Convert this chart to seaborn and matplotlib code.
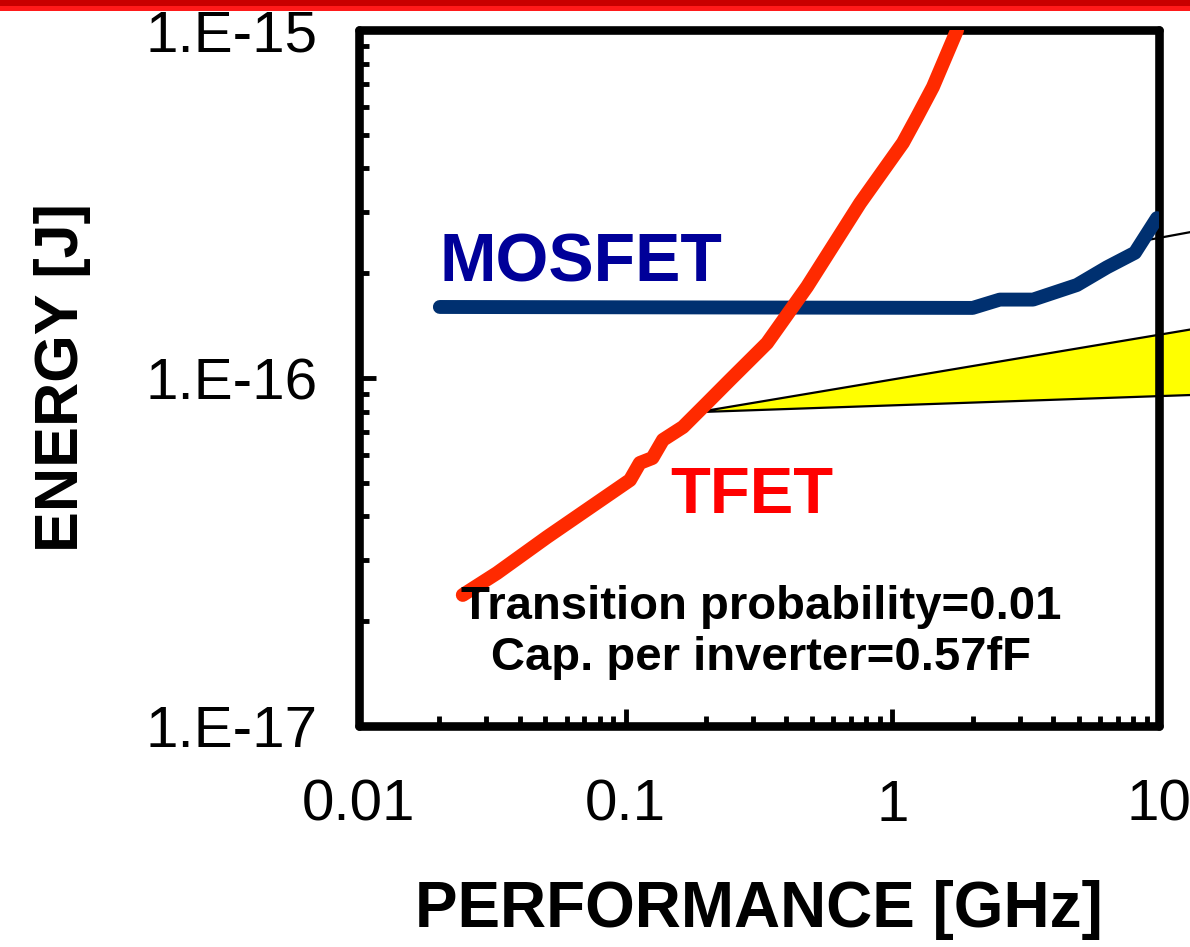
import matplotlib
matplotlib.use("Agg")
import matplotlib.pyplot as plt
import matplotlib.ticker as mticker
import pandas as pd
import seaborn as sns

# ----
# DATA
# ----
mosfet_ghz = [0.0201, 2.0, 2.53, 3.37, 4.92, 6.38, 8.12, 9.83]
mosfet_energy = [1.60e-16, 1.59e-16, 1.68e-16, 1.68e-16, 1.85e-16, 2.08e-16, 2.29e-16, 2.88e-16]

tfet_ghz = [0.0245, 0.0329, 0.0507, 0.1038, 0.113, 0.126, 0.138, 0.164, 0.202, 0.246,
            0.339, 0.479, 0.757, 1.096, 1.237, 1.42, 1.75]
tfet_energy = [2.38e-17, 2.75e-17, 3.49e-17, 5.09e-17, 5.70e-17, 5.89e-17, 6.64e-17, 7.23e-17,
               8.48e-17, 9.87e-17, 1.26e-16, 1.83e-16, 3.18e-16, 4.74e-16, 5.62e-16,
               6.86e-16, 1.0e-15]

# yellow callout wedge (apex on the TFET curve) and pointer line from MOSFET end
wedge_ghz = [0.187, 14.0, 14.0]
wedge_energy = [7.98e-17, 1.39e-16, 8.95e-17]
pointer_ghz = [9.01, 14.0]
pointer_energy = [2.49e-16, 2.65e-16]

x_ticks = [0.01, 0.1, 1, 10]
x_tick_labels = ["0.01", "0.1", "1", "10"]
y_ticks = [1e-17, 1e-16, 1e-15]
y_tick_labels = ["1.E-17", "1.E-16", "1.E-15"]

mosfet_df = pd.DataFrame({"ghz": mosfet_ghz, "energy": mosfet_energy})
tfet_df = pd.DataFrame({"ghz": tfet_ghz, "energy": tfet_energy})

# --------
# PLOTTING
# --------
sns.set_style("ticks")
plt.rcParams["font.family"] = ["Liberation Sans", "DejaVu Sans"]
plt.rcParams["text.color"] = "black"
plt.rcParams["axes.labelcolor"] = "black"
plt.rcParams["xtick.color"] = "black"
plt.rcParams["ytick.color"] = "black"

fig = plt.figure(figsize=(11.9, 9.47), dpi=100)
ax = fig.add_axes([359 / 1190, 1 - 726 / 947, 800 / 1190, 696 / 947])

# slide header bar
fig.add_artist(plt.Rectangle((0, 1 - 6 / 947), 1, 6 / 947, transform=fig.transFigure,
                             color="#c80000", lw=0))
fig.add_artist(plt.Rectangle((0, 1 - 11 / 947), 1, 5 / 947, transform=fig.transFigure,
                             color="#ff1a1a", lw=0))

ax.fill(wedge_ghz, wedge_energy, facecolor="#ffff00", edgecolor="black", lw=1.6,
        clip_on=False, zorder=2)
ax.plot(pointer_ghz, pointer_energy, color="black", lw=1.6, clip_on=False, zorder=2)

sns.lineplot(data=mosfet_df, x="ghz", y="energy", ax=ax, color="#003070", lw=10,
             solid_capstyle="round", zorder=3, sort=False)
sns.lineplot(data=tfet_df, x="ghz", y="energy", ax=ax, color="#ff2a00", lw=10,
             solid_capstyle="round", zorder=4, sort=False)

ax.set_xscale("log")
ax.set_yscale("log")
ax.set_xlim(0.01, 10)
ax.set_ylim(1e-17, 1e-15)

ax.xaxis.set_major_locator(mticker.FixedLocator(x_ticks))
ax.xaxis.set_major_formatter(mticker.FixedFormatter(x_tick_labels))
ax.yaxis.set_major_locator(mticker.FixedLocator(y_ticks))
ax.yaxis.set_major_formatter(mticker.FixedFormatter(y_tick_labels))
ax.xaxis.set_minor_locator(mticker.LogLocator(base=10, subs=range(2, 10)))
ax.yaxis.set_minor_locator(mticker.LogLocator(base=10, subs=range(2, 10)))
ax.xaxis.set_minor_formatter(mticker.NullFormatter())
ax.yaxis.set_minor_formatter(mticker.NullFormatter())

ax.tick_params(which="both", direction="in", width=3.5, color="black",
               top=False, right=False)
ax.tick_params(which="major", length=12)
ax.tick_params(which="minor", length=7.5)
ax.tick_params(axis="x", which="major", pad=38, labelsize=42)
ax.tick_params(axis="y", which="major", pad=30, labelsize=42)

for sp in ax.spines.values():
    sp.set_visible(True)
    sp.set_linewidth(6.2)
    sp.set_color("black")
    sp.set_capstyle("round")

ax.set_xlabel("PERFORMANCE [GHz]", fontsize=46, fontweight="bold", labelpad=34)
ax.set_ylabel("ENERGY [J]", fontsize=44, fontweight="bold", labelpad=39)

ax.text(0.0201, 1.89e-16, "MOSFET", color="#000099", fontsize=49, fontweight="bold",
        ha="left", va="baseline", zorder=5)
ax.text(0.1466, 4.09e-17, "TFET", color="#ff0000", fontsize=47, fontweight="bold",
        ha="left", va="baseline", zorder=5)
ax.text(0.503, 0.154, "Transition probability=0.01", transform=ax.transAxes,
        fontsize=34, fontweight="bold", ha="center", va="baseline", zorder=5)
ax.text(0.503, 0.080, "Cap. per inverter=0.57fF", transform=ax.transAxes,
        fontsize=34, fontweight="bold", ha="center", va="baseline", zorder=5)

fig.savefig("out.png", dpi=100)
